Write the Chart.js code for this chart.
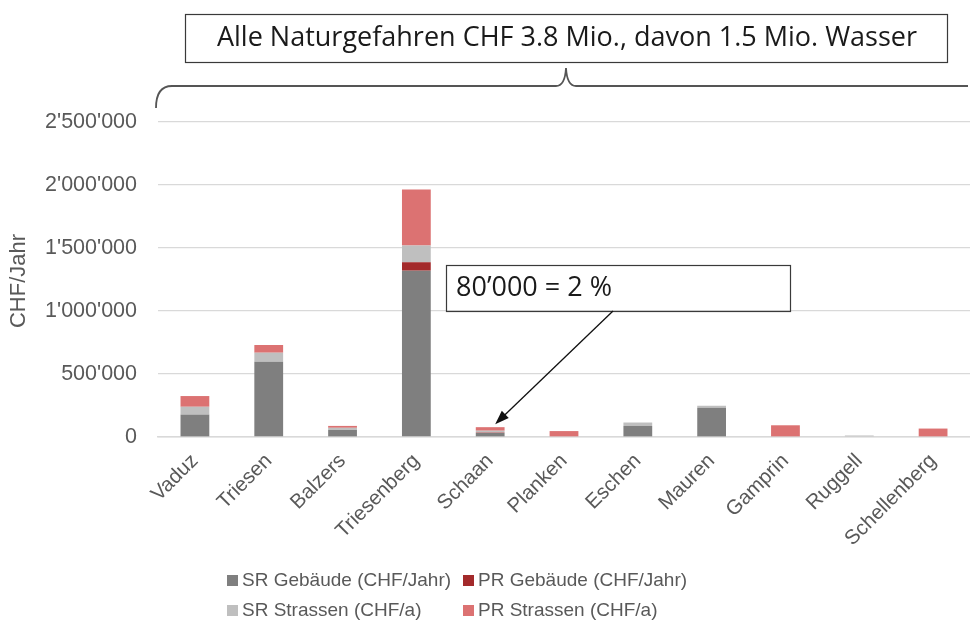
<!DOCTYPE html>
<html>
<head>
<meta charset="utf-8">
<script src="https://cdn.jsdelivr.net/npm/chart.js@4/dist/chart.umd.min.js"></script>
<style>
	html, body { margin: 0; padding: 0; background: #fff; }
	#chart { display: block; }
</style>
</head>
<body>
<canvas id="chart" width="970" height="636"></canvas>
<script>
const gemeinden = ['Vaduz', 'Triesen', 'Balzers', 'Triesenberg', 'Schaan', 'Planken', 'Eschen', 'Mauren', 'Gamprin', 'Ruggell', 'Schellenberg'];
const srGebaeude = [178000, 597000, 56000, 1320000, 32000, 0, 88000, 232000, 0, 0, 0];
const prGebaeude = [0, 0, 0, 67000, 3000, 0, 0, 0, 0, 0, 0];
const srStrassen = [62000, 72000, 17000, 133000, 15000, 0, 27000, 16000, 0, 12000, 0];
const prStrassen = [85000, 61000, 15000, 445000, 28000, 47000, 0, 0, 93000, 0, 67000];
const yTicks = [0, 500000, 1000000, 1500000, 2000000, 2500000];

const titleText = 'Alle Naturgefahren CHF 3.8 Mio., davon 1.5 Mio. Wasser';
const noteText = '80’000 = 2 %';
const noteTarget = 'Schaan';

const axisFont = '"Liberation Sans", Arial, sans-serif';
const boxFont = '"Open Sans", "Noto Sans", sans-serif';

function fmt(v) {
	return String(v).replace(/\B(?=(\d{3})+(?!\d))/g, "'");
}

// Rahmen, Klammer, Hinweis mit Pfeil, Achsentitel und Legende
const extras = {
	id: 'extras',
	afterDraw(chart) {
		const ctx = chart.ctx;
		const xs = chart.scales.x, ys = chart.scales.y;
		ctx.save();

		// Titelbox
		ctx.strokeStyle = '#3a3a3a';
		ctx.lineWidth = 1.2;
		ctx.strokeRect(185.5, 14.5, 762, 48);
		ctx.fillStyle = '#1a1a1a';
		ctx.font = '27px ' + boxFont;
		ctx.textAlign = 'center';
		ctx.textBaseline = 'middle';
		ctx.fillText(titleText, 567, 38);

		// geschweifte Klammer
		ctx.strokeStyle = '#555';
		ctx.lineWidth = 1.8;
		ctx.beginPath();
		ctx.moveTo(156, 108);
		ctx.quadraticCurveTo(156, 86, 172, 86);
		ctx.lineTo(556, 86);
		ctx.quadraticCurveTo(565, 86, 566, 68);
		ctx.quadraticCurveTo(567, 86, 576, 86);
		ctx.lineTo(968, 86);
		ctx.stroke();

		// Hinweisbox
		ctx.strokeStyle = '#3a3a3a';
		ctx.lineWidth = 1.2;
		ctx.strokeRect(446.5, 265.5, 344, 46);
		ctx.fillStyle = '#1a1a1a';
		ctx.font = '27px ' + boxFont;
		ctx.textAlign = 'left';
		ctx.fillText(noteText, 456, 288);

		// Pfeil auf Schaan
		const i = gemeinden.indexOf(noteTarget);
		const total = srGebaeude[i] + prGebaeude[i] + srStrassen[i] + prStrassen[i];
		const tx = xs.getPixelForValue(i) + 5, ty = ys.getPixelForValue(total) - 3;
		const sx = 613, sy = 311;
		const ang = Math.atan2(ty - sy, tx - sx);
		ctx.strokeStyle = '#111';
		ctx.lineWidth = 1.3;
		ctx.beginPath();
		ctx.moveTo(sx, sy);
		ctx.lineTo(tx - 10 * Math.cos(ang), ty - 10 * Math.sin(ang));
		ctx.stroke();
		ctx.fillStyle = '#111';
		ctx.beginPath();
		ctx.moveTo(tx, ty);
		ctx.lineTo(tx - 14 * Math.cos(ang) + 5 * Math.sin(ang), ty - 14 * Math.sin(ang) - 5 * Math.cos(ang));
		ctx.lineTo(tx - 14 * Math.cos(ang) - 5 * Math.sin(ang), ty - 14 * Math.sin(ang) + 5 * Math.cos(ang));
		ctx.closePath();
		ctx.fill();

		// y-Achsentitel
		ctx.save();
		ctx.translate(19, 281);
		ctx.rotate(-Math.PI / 2);
		ctx.fillStyle = '#595959';
		ctx.font = '22px ' + axisFont;
		ctx.textAlign = 'center';
		ctx.textBaseline = 'middle';
		ctx.fillText('CHF/Jahr', 0, 0);
		ctx.restore();

		// Legende, zwei Spalten
		const cols = [227, 463], rows = [580, 610];
		ctx.font = '19px ' + axisFont;
		ctx.textBaseline = 'middle';
		ctx.textAlign = 'left';
		chart.data.datasets.forEach((ds, k) => {
			const x = cols[k % 2], y = rows[Math.floor(k / 2)];
			ctx.fillStyle = ds.backgroundColor;
			ctx.fillRect(x, y - 5, 11, 11);
			ctx.fillStyle = '#595959';
			ctx.fillText(ds.label, x + 15, y + 1);
		});
		ctx.restore();
	}
};

new Chart(document.getElementById('chart'), {
	type: 'bar',
	data: {
		labels: gemeinden,
		datasets: [
			{ label: 'SR Gebäude (CHF/Jahr)', data: srGebaeude, backgroundColor: '#7f7f7f' },
			{ label: 'PR Gebäude (CHF/Jahr)', data: prGebaeude, backgroundColor: '#a32a2b' },
			{ label: 'SR Strassen (CHF/a)', data: srStrassen, backgroundColor: '#bfbfbf' },
			{ label: 'PR Strassen (CHF/a)', data: prStrassen, backgroundColor: '#dc7272' }
		]
	},
	options: {
		responsive: false,
		animation: false,
		barPercentage: 0.39,
		categoryPercentage: 1,
		layout: { padding: { top: 122, right: 0, left: 0, bottom: 0 } },
		plugins: { legend: { display: false }, tooltip: { enabled: false } },
		scales: {
			x: {
				stacked: true,
				grid: { display: false },
				border: { color: '#d9d9d9', width: 1.5 },
				ticks: { color: '#595959', font: { family: axisFont, size: 20.5 }, minRotation: 45, maxRotation: 45, padding: 4, autoSkip: false },
				afterFit: s => { s.height = 199; }
			},
			y: {
				stacked: true,
				min: 0,
				max: 2500000,
				afterBuildTicks: s => { s.ticks = yTicks.map(v => ({ value: v })); },
				grid: { color: '#d9d9d9', lineWidth: 1.3, drawTicks: false },
				border: { display: false },
				ticks: { color: '#595959', font: { family: axisFont, size: 21.5 }, padding: 21, callback: v => fmt(v) },
				afterFit: s => { s.width = 158; }
			}
		}
	},
	plugins: [extras]
});
</script>
</body>
</html>
